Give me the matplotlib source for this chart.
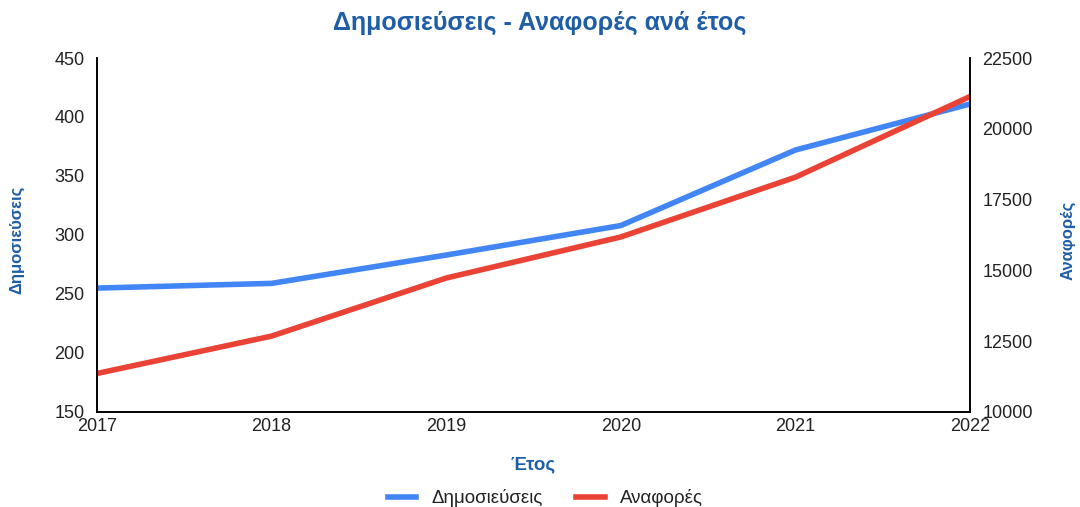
import matplotlib.pyplot as plt
from matplotlib.lines import Line2D

years = [2017, 2018, 2019, 2020, 2021, 2022]
publications = [255, 259, 283, 308, 372, 411]
citations = [11360, 12680, 14730, 16180, 18290, 21140]

blue = '#4285F4'
red = '#EA4335'
title_col = '#1f5da6'

plt.rcParams['font.family'] = ['Liberation Sans', 'DejaVu Sans']

fig = plt.figure(figsize=(10.8, 5.07), dpi=100)
ax = fig.add_axes([0.0898, 0.1874, 0.8083, 0.6982])
ax2 = ax.twinx()

ax.plot(years, publications, color=blue, lw=4, solid_capstyle='butt', zorder=3)
ax2.plot(years, citations, color=red, lw=4, solid_capstyle='butt', zorder=2)

ax.set_xlim(2017, 2022)
ax.set_ylim(150, 450)
ax2.set_ylim(10000, 22500)
ax.set_xticks(years)
ax.set_yticks(range(150, 451, 50))
ax2.set_yticks(range(10000, 22501, 2500))

for a in (ax, ax2):
    a.spines['top'].set_visible(False)
    for s in ('left', 'right', 'bottom'):
        a.spines[s].set_linewidth(1.2)
        a.spines[s].set_color('black')
    a.tick_params(length=0, labelsize=13, colors='#222222')
ax.tick_params(axis='y', pad=9)
ax2.tick_params(axis='y', pad=9)
ax.tick_params(axis='x', pad=4)

ax.set_ylabel('Δημοσιεύσεις', color=title_col, fontsize=12, fontweight='bold')
ax.yaxis.set_label_coords(-0.083, 0.485)
ax2.set_ylabel('Αναφορές', color=title_col, fontsize=12, fontweight='bold')
ax2.yaxis.set_label_coords(1.104, 0.485)
ax.set_xlabel('Έτος', color=title_col, fontsize=13.5, fontweight='bold', labelpad=16)

fig.suptitle('Δημοσιεύσεις - Αναφορές ανά έτος', color=title_col, fontsize=18,
             fontweight='bold', y=0.978)

handles = [Line2D([], [], color=blue, lw=4), Line2D([], [], color=red, lw=4)]
fig.legend(handles, ['Δημοσιεύσεις', 'Αναφορές'], loc='center', bbox_to_anchor=(0.505, 0.017),
           ncol=2, frameon=False, fontsize=13.5, handlelength=1.5, columnspacing=1.8,
           labelcolor='#222222')

fig.savefig('out.png', dpi=100)
